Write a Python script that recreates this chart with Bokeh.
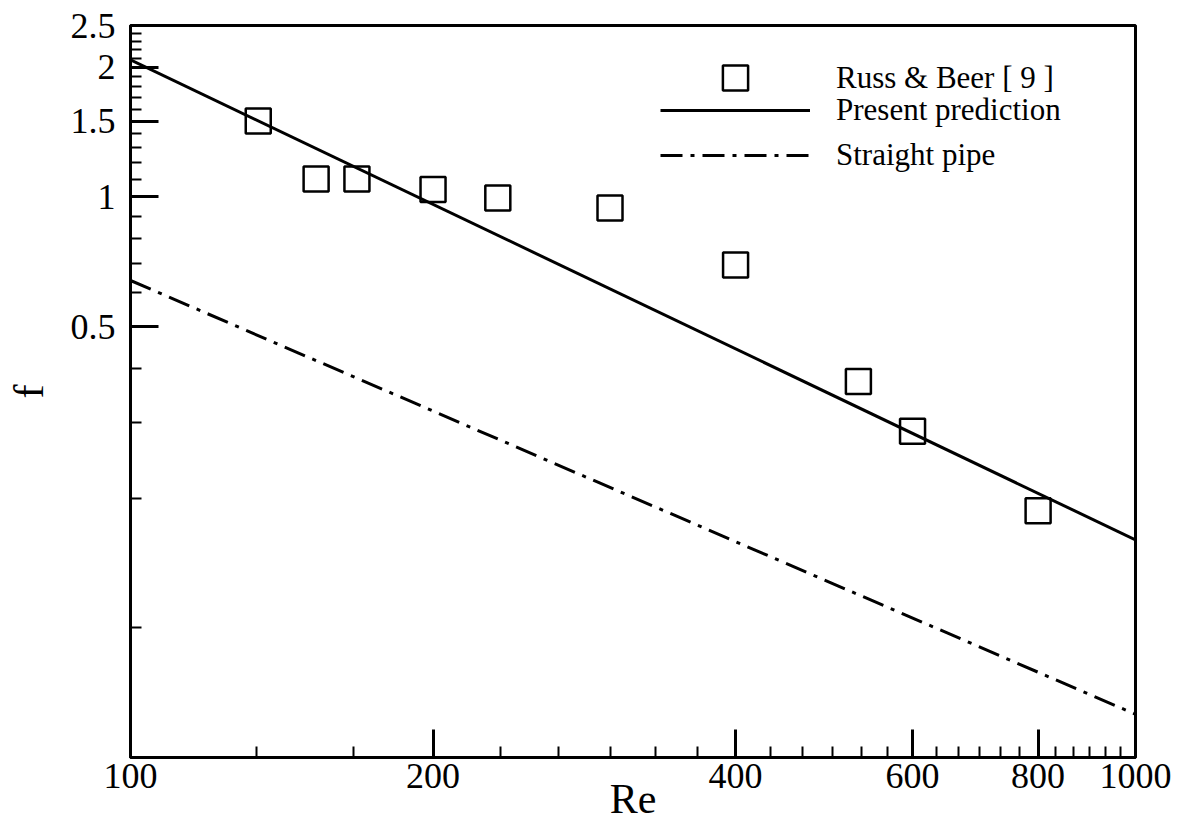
import math
from bokeh.plotting import figure
from bokeh.models import (Range1d, FixedTicker, NumeralTickFormatter, Legend, LegendItem)
from bokeh.embed import file_html
from bokeh.resources import INLINE

# ---- data ----
re_exp = [134, 153, 168, 200, 232, 300, 400, 530, 600, 800]
f_exp = [1.50, 1.10, 1.10, 1.04, 0.995, 0.943, 0.695, 0.373, 0.286, 0.187]

re_line = [100, 1000]
f_pred = [2.08, 0.160]
f_straight = [0.64, 0.063]

x_major = [100, 200, 400, 600, 800, 1000]
y_major = [0.5, 1, 1.5, 2, 2.5]

FONT = "Liberation Serif"

p = figure(width=1181, height=834, x_axis_type="log", y_axis_type="log",
           x_range=Range1d(100, 1000), y_range=Range1d(0.05, 2.5),
           output_backend="svg", toolbar_location=None,
           min_border_left=130, min_border_right=46, min_border_top=25, min_border_bottom=77)
p.background_fill_color = "white"
p.border_fill_color = "white"
p.grid.visible = False
p.outline_line_color = "black"
p.outline_line_width = 3

x_minor = [100 + k * 100 / 3 for k in range(1, 27) if k not in (3, 9, 15, 21)]
y_minor = [0.1, 0.2, 0.3, 0.4, 0.6, 0.7, 0.8, 0.9, 1.1, 1.2, 1.3, 1.4,
           1.6, 1.7, 1.8, 1.9, 2.1, 2.2, 2.3, 2.4]

p.xaxis.ticker = FixedTicker(ticks=x_major, minor_ticks=x_minor)
p.yaxis.ticker = FixedTicker(ticks=y_major, minor_ticks=y_minor)
p.xaxis.formatter = NumeralTickFormatter(format="0")
p.yaxis.formatter = NumeralTickFormatter(format="0.[0]")

for ax in (p.xaxis[0], p.yaxis[0]):
    ax.axis_line_width = 3
    ax.axis_line_color = "black"
    ax.major_tick_in = 28
    ax.major_tick_out = 0
    ax.minor_tick_in = 11
    ax.minor_tick_out = 0
    ax.major_tick_line_width = 3
    ax.minor_tick_line_width = 2
    ax.major_tick_line_color = "black"
    ax.minor_tick_line_color = "black"
    ax.major_label_text_font = FONT
    ax.major_label_text_font_size = "36px"
    ax.major_label_text_color = "black"
    ax.axis_label_text_font = FONT
    ax.axis_label_text_font_size = "42px"
    ax.axis_label_text_font_style = "normal"
    ax.axis_label_text_color = "black"
p.xaxis.major_label_standoff = 6
p.yaxis.major_label_standoff = 15
p.xaxis.axis_label = "Re"
p.yaxis.axis_label = "f"
p.xaxis.axis_label_standoff = -15
p.yaxis.axis_label_standoff = 16

sq = p.scatter(re_exp, f_exp, marker="square", size=25, fill_color=None,
               line_color="black", line_width=2.5)
ln1 = p.line(re_line, f_pred, line_color="black", line_width=3)
ln2 = p.line(re_line, f_straight, line_color="black", line_width=3, line_dash="22 8 4 8")

common = dict(orientation="vertical", glyph_width=150, padding=0, margin=0,
              label_standoff=26, label_text_font=FONT, label_text_font_size="31px",
              label_text_color="black", border_line_color=None, background_fill_alpha=0)

legend_a = Legend(items=[LegendItem(label="Russ & Beer [ 9 ]", renderers=[sq])],
                  location=(530, 648), glyph_height=63, label_height=63, spacing=0, **common)
legend_b = Legend(items=[LegendItem(label="Present prediction", renderers=[ln1]),
                         LegendItem(label="Straight pipe", renderers=[ln2])],
                  location=(530, 584), glyph_height=30, label_height=30, spacing=9, **common)
p.add_layout(legend_a, "center")
p.add_layout(legend_b, "center")

open("out.html", "w").write(file_html(p, INLINE))
